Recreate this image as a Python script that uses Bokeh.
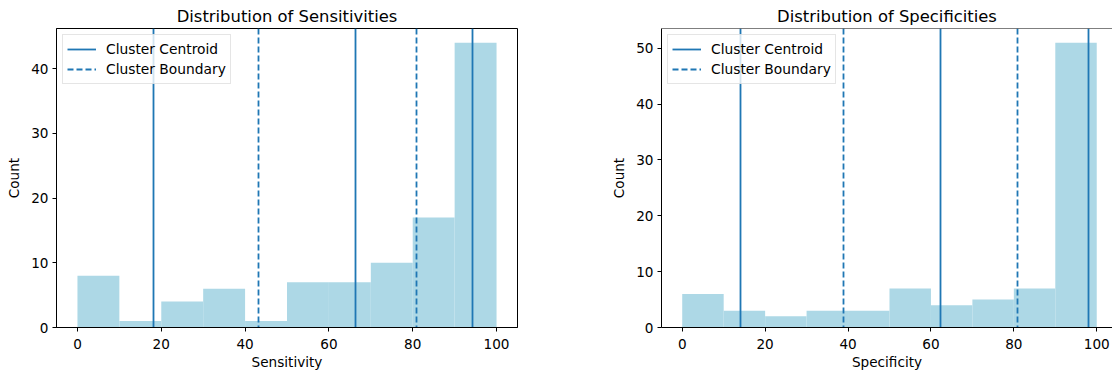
from bokeh.plotting import figure
from bokeh.layouts import row
from bokeh.models import Range1d, Legend, LegendItem, Span, FixedTicker
from bokeh.embed import file_html
from bokeh.resources import INLINE

# ---- data ----
bin_edges = [0, 10, 20, 30, 40, 50, 60, 70, 80, 90, 100]
sens_counts = [8, 1, 4, 6, 1, 7, 7, 10, 17, 44]
spec_counts = [6, 3, 2, 3, 3, 7, 4, 5, 7, 51]
sens_centroids = [18.2, 66.4, 94.3]
sens_boundaries = [43.1, 81.0]
spec_centroids = [14.0, 62.2, 98.0]
spec_boundaries = [38.9, 81.0]
x_ticks = [0, 20, 40, 60, 80, 100]
sens_y_ticks = [0, 10, 20, 30, 40]
spec_y_ticks = [0, 10, 20, 30, 40, 50]

FONT = "DejaVu Sans"
BLUE = "#1f77b4"
BAR = "#add8e6"


def make_panel(title, xlabel, counts, centroids, boundaries, yticks, width,
               border_left, border_right, x_end, outline):
    ymax = max(counts) * 1.05
    p = figure(width=width, height=373, output_backend="svg", toolbar_location=None,
               x_range=Range1d(-5, x_end), y_range=Range1d(0, ymax),
               min_border_left=border_left, min_border_right=border_right,
               min_border_top=28, min_border_bottom=46)
    p.title.text = title
    p.title.align = "center"
    p.title.text_font = FONT
    p.title.text_font_size = "16.4px"
    p.title.text_font_style = "normal"
    p.title.text_color = "black"
    p.title.standoff = 6
    p.title.offset = 0

    p.xgrid.visible = False
    p.ygrid.visible = False
    p.background_fill_color = "white"
    p.border_fill_color = "white"
    if outline:
        p.outline_line_color = "black"
        p.outline_line_width = 1
    else:
        p.outline_line_color = None
        p.add_layout(Span(location=ymax, dimension="width", line_color="black", line_width=1))

    p.quad(left=bin_edges[:-1], right=bin_edges[1:], top=counts, bottom=0,
           fill_color=BAR, line_color=None, fill_alpha=1.0)

    r_c = p.vspan(x=centroids, line_color=BLUE, line_width=1.8)
    r_b = p.vspan(x=boundaries, line_color=BLUE, line_width=1.8, line_dash="6 3")

    for ax in (p.xaxis[0], p.yaxis[0]):
        ax.axis_line_color = "black"
        ax.axis_line_width = 1
        ax.major_tick_line_color = "black"
        ax.major_tick_out = 4
        ax.major_tick_in = 0
        ax.minor_tick_line_color = None
        ax.major_label_text_font = FONT
        ax.major_label_text_font_size = "13.6px"
        ax.major_label_text_color = "black"
        ax.axis_label_text_font = FONT
        ax.axis_label_text_font_size = "13.6px"
        ax.axis_label_text_font_style = "normal"
        ax.axis_label_text_color = "black"
    p.xaxis[0].ticker = FixedTicker(ticks=x_ticks)
    p.yaxis[0].ticker = FixedTicker(ticks=yticks)
    p.xaxis[0].axis_label = xlabel
    p.yaxis[0].axis_label = "Count"
    p.xaxis[0].major_label_standoff = 7
    p.xaxis[0].axis_label_standoff = 2
    p.yaxis[0].major_label_standoff = 4
    p.yaxis[0].axis_label_standoff = 6

    legend = Legend(items=[LegendItem(label="Cluster Centroid", renderers=[r_c]),
                           LegendItem(label="Cluster Boundary", renderers=[r_b])],
                    location="top_left")
    legend.margin = 6
    legend.padding = 4
    legend.spacing = 0
    legend.glyph_width = 29
    legend.glyph_height = 20
    legend.label_height = 20
    legend.label_standoff = 10
    legend.label_text_font = FONT
    legend.label_text_font_size = "13.8px"
    legend.label_text_color = "black"
    legend.border_line_color = "#cccccc"
    legend.border_line_width = 1
    legend.background_fill_color = "white"
    legend.background_fill_alpha = 0.8
    p.add_layout(legend)
    return p


p1 = make_panel("Distribution of Sensitivities", "Sensitivity", sens_counts,
                sens_centroids, sens_boundaries, sens_y_ticks, 608, 56, 91, 105, True)
p2 = make_panel("Distribution of Specificities", "Specificity", spec_counts,
                spec_centroids, spec_boundaries, spec_y_ticks, 504, 48, 0, 103.8, False)

layout = row(p1, p2)
open("out.html", "w").write(file_html(layout, INLINE))
